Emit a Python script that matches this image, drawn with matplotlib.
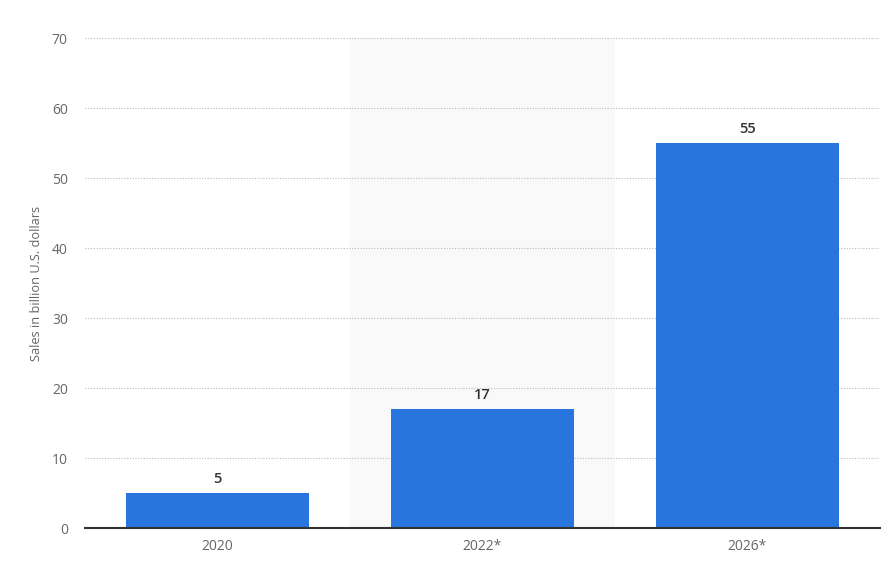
import matplotlib
matplotlib.use("Agg")
import matplotlib.pyplot as plt

categories = ["2020", "2022*", "2026*"]
values = [5, 17, 55]
yticks = [0, 10, 20, 30, 40, 50, 60, 70]
highlight_index = 1

plt.rcParams['font.family'] = ['Open Sans', 'DejaVu Sans']

fig = plt.figure(figsize=(8.88, 5.67), dpi=100)
ax = fig.add_axes([84.5/888, 39/567, (880-84.5)/888, (528-38)/567])

x = list(range(len(categories)))
ax.axvspan(highlight_index - 0.5, highlight_index + 0.5, color="#f9f9f9", zorder=0, lw=0)
bars = ax.bar(x, values, width=0.69, color="#2876dd", zorder=3)
for xi, v in zip(x, values):
    ax.annotate(f"{v}", (xi, v), xytext=(0, 5), textcoords="offset points",
                ha="center", va="bottom", fontsize=10.5, fontweight="semibold", color="#333333")

ax.set_xlim(-0.5, len(categories) - 0.5)
ax.set_ylim(0, 70)
ax.set_yticks(yticks)
ax.set_xticks(x)
ax.set_xticklabels(categories)
ax.yaxis.grid(True, linestyle=(0, (1, 1.5)), color="#bbbbbb", linewidth=0.8, zorder=1)
ax.set_axisbelow(True)
for s in ["top", "right", "left"]:
    ax.spines[s].set_visible(False)
ax.spines["bottom"].set_color("#333333")
ax.spines["bottom"].set_linewidth(1.5)
ax.spines["bottom"].set_zorder(4)
ax.tick_params(axis="both", length=0, labelsize=10, colors="#666666")
ax.tick_params(axis="y", pad=12)
ax.tick_params(axis="x", pad=8)
ax.set_ylabel("Sales in billion U.S. dollars", fontsize=9.2, color="#666666", labelpad=6)

fig.savefig("out.png", dpi=100)
